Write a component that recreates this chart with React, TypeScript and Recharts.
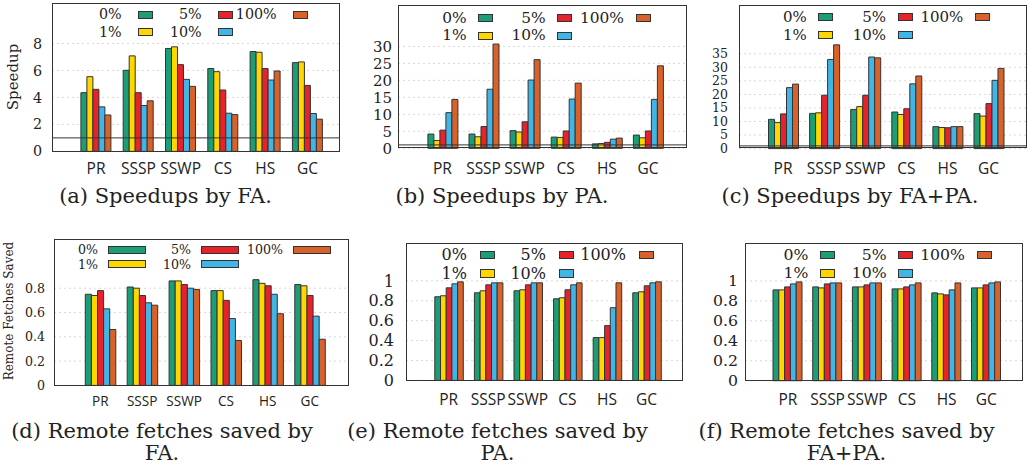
import { BarChart, Bar, XAxis, YAxis, CartesianGrid, ReferenceLine } from 'recharts';

const categories = ['PR', 'SSSP', 'SSWP', 'CS', 'HS', 'GC'];
const seriesNames = ['0%', '1%', '5%', '10%', '100%'];
const seriesColors = ['#1b9e77', '#ffd700', '#e6222b', '#41b6e6', '#d9622b'];

// rows: 0%, 1%, 5%, 10%, 100%
const speedupFA = [
  [4.35, 6.01, 7.63, 6.14, 7.4, 6.58],
  [5.54, 7.08, 7.75, 5.91, 7.35, 6.63],
  [4.6, 4.35, 6.43, 4.55, 6.14, 4.89],
  [3.3, 3.4, 5.34, 2.83, 5.29, 2.81],
  [2.7, 3.75, 4.82, 2.73, 5.96, 2.39],
];
const speedupPA = [
  [4.2, 4.2, 5.2, 3.3, 1.3, 3.9],
  [2.3, 3.4, 4.8, 3.2, 1.4, 3.1],
  [5.35, 6.4, 7.8, 5.1, 1.75, 5.1],
  [10.5, 17.4, 20.1, 14.5, 2.7, 14.4],
  [14.4, 30.7, 26.1, 19.2, 3.0, 24.3],
];
const speedupFAPA = [
  [10.8, 13.0, 14.4, 13.5, 8.1, 12.9],
  [9.6, 13.2, 15.5, 12.6, 7.8, 12.0],
  [12.8, 19.7, 19.7, 14.7, 7.7, 16.6],
  [22.5, 32.9, 33.8, 23.9, 8.1, 25.2],
  [23.8, 38.3, 33.5, 26.8, 8.1, 29.6],
];
const savedFA = [
  [0.75, 0.81, 0.86, 0.78, 0.87, 0.83],
  [0.74, 0.8, 0.86, 0.78, 0.84, 0.82],
  [0.78, 0.74, 0.83, 0.7, 0.82, 0.74],
  [0.63, 0.68, 0.8, 0.55, 0.75, 0.57],
  [0.46, 0.66, 0.79, 0.37, 0.59, 0.38],
];
const savedPA = [
  [0.84, 0.88, 0.9, 0.82, 0.43, 0.88],
  [0.85, 0.9, 0.91, 0.83, 0.43, 0.89],
  [0.93, 0.96, 0.96, 0.91, 0.55, 0.95],
  [0.97, 0.98, 0.98, 0.96, 0.73, 0.98],
  [0.99, 0.98, 0.98, 0.98, 0.98, 0.99],
];
const savedFAPA = [
  [0.91, 0.94, 0.94, 0.92, 0.88, 0.93],
  [0.91, 0.93, 0.94, 0.92, 0.87, 0.93],
  [0.94, 0.97, 0.96, 0.94, 0.86, 0.96],
  [0.97, 0.98, 0.98, 0.96, 0.91, 0.98],
  [0.99, 0.98, 0.98, 0.98, 0.98, 0.99],
];

const speedupTicksA = [0, 2, 4, 6, 8];
const speedupTicksB = [0, 5, 10, 15, 20, 25, 30];
const speedupTicksC = [0, 5, 10, 15, 20, 25, 30, 35];
const savedTicksD = [0, 0.2, 0.4, 0.6, 0.8];
const savedTicksEF = [0, 0.2, 0.4, 0.6, 0.8, 1];

const SERIF = '"DejaVu Serif", serif';
const SANS = '"Open Sans", sans-serif';
const INK = '#222';

const panels = [
  {
    vals: speedupFA, ticks: speedupTicksA, ymax: 11, refLine: true,
    left: 52, top: 3.3, right: 340, bottom: 151.7, padL: 22.9, padR: 11.3, bar: 6,
    fs: 14.3, yfs: 14.3, xfs: 15.5, yGap: 10, xGap: 11.6,
    legend: { cols: [121.7, 201.7, 276.7], gap: 16, sw: 15, sh: 8, rows: [15, 32.3] },
    caption: { lines: ['(a) Speedups by FA.'], cx: 165.5, cy: 196 },
  },
  {
    vals: speedupPA, ticks: speedupTicksB, ymax: 42.2, refLine: true,
    left: 398.3, top: 5, right: 686.7, bottom: 148.3, padL: 23.9, padR: 17.9, bar: 6,
    fs: 15.4, yfs: 15, xfs: 15.5, yGap: 6, xGap: 14.6,
    legend: { cols: [466.7, 545.7, 624], gap: 11.6, sw: 15, sh: 8, rows: [18.3, 35.7] },
    caption: { lines: ['(b) Speedups by PA.'], cx: 502, cy: 196 },
  },
  {
    vals: speedupFAPA, ticks: speedupTicksC, ymax: 53, refLine: true,
    left: 738.7, top: 4.7, right: 1026.7, bottom: 148.3, padL: 23.5, padR: 17.9, bar: 6,
    fs: 15, yfs: 12.5, xfs: 15.5, yGap: 11, xGap: 14.6,
    legend: { cols: [806.7, 886, 963.3], gap: 11.6, sw: 15, sh: 8, rows: [17.3, 35] },
    caption: { lines: ['(c) Speedups by FA+PA.'], cx: 850, cy: 196 },
  },
  {
    vals: savedFA, ticks: savedTicksD, ymax: 1.205, refLine: false,
    left: 54, top: 239.3, right: 349, bottom: 385.7, padL: 25.3, padR: 18.3, bar: 6.1,
    fs: 12.6, yfs: 12.6, xfs: 13.6, yGap: 9, xGap: 11.3,
    legend: { cols: [98, 191, 283], gap: 10, sw: 38, sh: 8, rows: [250, 264.3] },
    caption: { lines: ['(d) Remote fetches saved by', 'FA.'], cx: 162, cy: 431 },
  },
  {
    vals: savedPA, ticks: savedTicksEF, ymax: 1.38, refLine: false,
    left: 405.7, top: 243.3, right: 683.3, bottom: 380.7, padL: 22.8, padR: 17.2, bar: 5.7,
    fs: 16, yfs: 16, xfs: 15.5, yGap: 12, xGap: 13.3,
    legend: { cols: [467, 546, 626], gap: 13, sw: 15, sh: 8.5, rows: [255, 273.3] },
    caption: { lines: ['(e) Remote fetches saved by', 'PA.'], cx: 497.5, cy: 431 },
  },
  {
    vals: savedFAPA, ticks: savedTicksEF, ymax: 1.38, refLine: false,
    left: 745, top: 243, right: 1023, bottom: 380.7, padL: 23, padR: 16.8, bar: 5.8,
    fs: 15.7, yfs: 15.7, xfs: 15.5, yGap: 7, xGap: 13.3,
    legend: { cols: [808.3, 886.7, 965], gap: 11.7, sw: 15, sh: 8.5, rows: [255, 273.3] },
    caption: { lines: ['(f) Remote fetches saved by', 'FA+PA.'], cx: 846.5, cy: 431 },
  },
];

type PanelDef = (typeof panels)[number];

function Panel({ p }: { p: PanelDef }) {
  const yw = 44;
  const xh = 34;
  const w = p.right - p.left;
  const h = p.bottom - p.top;
  const rows = categories.map((c, j) => {
    const r: Record<string, string | number> = { name: c };
    seriesNames.forEach((_, i) => {
      r['s' + i] = p.vals[i][j];
    });
    return r;
  });

  return (
    <>
      <div style={{ position: 'absolute', left: p.left - yw, top: p.top }}>
        <BarChart
          width={w + yw}
          height={h + xh}
          data={rows}
          margin={{ top: 0, right: 0, bottom: 0, left: 0 }}
          barGap={0}
        >
          <CartesianGrid vertical={false} stroke="#d8d8d8" strokeDasharray="2 3" />
          <XAxis
            dataKey="name"
            interval={0}
            height={xh}
            padding={{ left: p.padL, right: p.padR }}
            axisLine={false}
            tickLine={false}
            tickSize={0}
            tickMargin={p.xGap}
            tick={{ fontFamily: SANS, fontSize: p.xfs, fill: INK }}
          />
          <YAxis
            width={yw}
            domain={[0, p.ymax]}
            ticks={p.ticks}
            interval={0}
            axisLine={false}
            tickLine={false}
            tickSize={0}
            tickMargin={p.yGap}
            tick={{ fontFamily: SERIF, fontSize: p.yfs, fill: INK }}
          />
          {p.refLine && <ReferenceLine y={1} stroke="#333" strokeWidth={1} />}
          {seriesNames.map((n, i) => (
            <Bar
              key={n}
              dataKey={'s' + i}
              name={n}
              fill={seriesColors[i]}
              stroke="#333"
              strokeWidth={1}
              barSize={p.bar}
              isAnimationActive={false}
            />
          ))}
        </BarChart>
      </div>
      <div
        style={{
          position: 'absolute',
          left: p.left,
          top: p.top,
          width: w,
          height: h,
          border: '1.2px solid #333',
          boxSizing: 'border-box',
          pointerEvents: 'none',
        }}
      />
      {seriesNames.map((n, i) => {
        const col = Math.floor(i / 2);
        const y = p.legend.rows[i % 2];
        const tr = p.legend.cols[col];
        return (
          <div key={n}>
            <div
              style={{
                position: 'absolute',
                left: tr - 80,
                width: 80,
                top: y - p.fs * 0.6,
                lineHeight: `${p.fs * 1.2}px`,
                textAlign: 'right',
                fontFamily: SERIF,
                fontSize: p.fs,
                color: INK,
              }}
            >
              {n}
            </div>
            <div
              style={{
                position: 'absolute',
                left: tr + p.legend.gap,
                top: y - p.legend.sh / 2,
                width: p.legend.sw,
                height: p.legend.sh,
                background: seriesColors[i],
                border: '1px solid #333',
                boxSizing: 'border-box',
              }}
            />
          </div>
        );
      })}
      {p.caption.lines.map((t, k) => (
        <div
          key={t}
          style={{
            position: 'absolute',
            left: p.caption.cx - 200,
            width: 400,
            top: p.caption.cy + k * 22 - 13,
            lineHeight: '26px',
            textAlign: 'center',
            whiteSpace: 'nowrap',
            fontFamily: SERIF,
            fontSize: 21,
            color: INK,
          }}
        >
          {t}
        </div>
      ))}
    </>
  );
}

export default function App() {
  return (
    <div
      style={{
        position: 'absolute',
        left: 0,
        top: 0,
        width: 1029,
        height: 474,
        background: '#fff',
        overflow: 'hidden',
      }}
    >
      {panels.map((p, i) => (
        <Panel key={i} p={p} />
      ))}
      <div
        style={{
          position: 'absolute',
          left: 13 - 60,
          top: 77 - 10,
          width: 120,
          lineHeight: '20px',
          textAlign: 'center',
          transform: 'rotate(-90deg)',
          fontFamily: SERIF,
          fontSize: 15,
          color: INK,
        }}
      >
        Speedup
      </div>
      <div
        style={{
          position: 'absolute',
          left: 9 - 90,
          top: 311 - 8,
          width: 180,
          lineHeight: '16px',
          textAlign: 'center',
          transform: 'rotate(-90deg)',
          whiteSpace: 'nowrap',
          fontFamily: SERIF,
          fontSize: 12,
          color: INK,
        }}
      >
        Remote Fetches Saved
      </div>
    </div>
  );
}
